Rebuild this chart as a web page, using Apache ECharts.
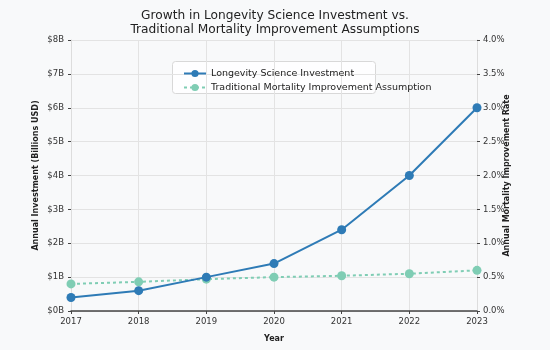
<!DOCTYPE html>
<html><head><meta charset="utf-8">
<script src="https://cdn.jsdelivr.net/npm/echarts@6/dist/echarts.min.js"></script>
<style>html,body{margin:0;padding:0;background:#f8f9fa;}#c{width:550px;height:350px;}</style>
</head><body><div id="c"></div>
<script>
const years = ['2017','2018','2019','2020','2021','2022','2023'];
const investment = [0.4, 0.6, 1.0, 1.4, 2.4, 4.0, 6.0];
const mortality = [0.40, 0.43, 0.47, 0.50, 0.52, 0.55, 0.60];
const leftTicks = [0,1,2,3,4,5,6,7,8];
const rightTicks = [0,0.5,1,1.5,2,2.5,3,3.5,4];
const font = 'DejaVu Sans';
const chart = echarts.init(document.getElementById('c'));
chart.setOption({
  backgroundColor: '#f8f9fa',
  textStyle: {fontFamily: font},
  title: {
    text: 'Growth in Longevity Science Investment vs.\nTraditional Mortality Improvement Assumptions',
    left: 'center', top: 4,
    textStyle: {fontFamily: font, fontSize: 12.2, fontWeight: 'normal', color: '#222', lineHeight: 14}
  },
  graphic: [{
    type: 'rect', left: 172, top: 61, z: 0,
    shape: {width: 203, height: 32, r: 3},
    style: {fill: 'rgba(255,255,255,0.85)', stroke: '#d8d8d8', lineWidth: 1}
  }],
  grid: {left: 71, right: 73, top: 40, bottom: 39},
  legend: {
    left: 183, top: 68, orient: 'vertical', itemGap: 3,
    itemWidth: 22, itemHeight: 9, z: 5,
    padding: 0,
    textStyle: {fontFamily: font, fontSize: 9.5, color: '#222', lineHeight: 11},
    data: ['Longevity Science Investment', 'Traditional Mortality Improvement Assumption']
  },
  xAxis: {
    type: 'category', data: years, boundaryGap: false,
    name: 'Year', nameLocation: 'middle', nameGap: 24,
    nameTextStyle: {fontFamily: font, fontSize: 8, fontWeight: 'bold', color: '#222'},
    axisLine: {lineStyle: {color: '#444', width: 1.5}},
    axisTick: {show: true, length: 3, lineStyle: {color: '#444'}},
    axisLabel: {fontFamily: font, fontSize: 8.5, color: '#333', margin: 6},
    splitLine: {show: true, lineStyle: {color: '#e3e3e3', width: 1}}
  },
  yAxis: [{
    type: 'value', min: 0, max: 8, interval: 1,
    name: 'Annual Investment (Billions USD)', nameLocation: 'middle', nameGap: 31, nameRotate: 90,
    nameMoveOverlap: false,
    nameTextStyle: {fontFamily: font, fontSize: 8, fontWeight: 'bold', color: '#222'},
    axisLine: {show: true, lineStyle: {color: '#dddddd'}},
    axisTick: {show: true, length: 3, lineStyle: {color: '#444'}},
    axisLabel: {fontFamily: font, fontSize: 8.5, color: '#333', margin: 7, formatter: v => '$' + v + 'B'},
    splitLine: {show: true, lineStyle: {color: '#e3e3e3', width: 1}}
  }, {
    type: 'value', min: 0, max: 4, interval: 0.5, position: 'right',
    name: 'Annual Mortality Improvement Rate', nameLocation: 'middle', nameGap: 26, nameRotate: 90,
    nameMoveOverlap: false,
    nameTextStyle: {fontFamily: font, fontSize: 8, fontWeight: 'bold', color: '#222'},
    axisLine: {show: true, lineStyle: {color: '#dddddd'}},
    axisTick: {show: true, length: 3, lineStyle: {color: '#444'}},
    axisLabel: {fontFamily: font, fontSize: 8.5, color: '#333', margin: 6, formatter: v => v.toFixed(1) + '%'},
    splitLine: {show: false}
  }],
  series: [{
    name: 'Longevity Science Investment', type: 'line', data: investment, yAxisIndex: 0,
    symbol: 'circle', symbolSize: 9,
    lineStyle: {color: '#2e7bb6', width: 2},
    itemStyle: {color: '#2e7bb6'}, z: 3
  }, {
    name: 'Traditional Mortality Improvement Assumption', type: 'line', data: mortality, yAxisIndex: 1,
    symbol: 'circle', symbolSize: 9,
    lineStyle: {color: '#7fcdb4', width: 2, type: [3, 3]},
    itemStyle: {color: '#7fcdb4'}, z: 2
  }]
});
</script></body></html>
